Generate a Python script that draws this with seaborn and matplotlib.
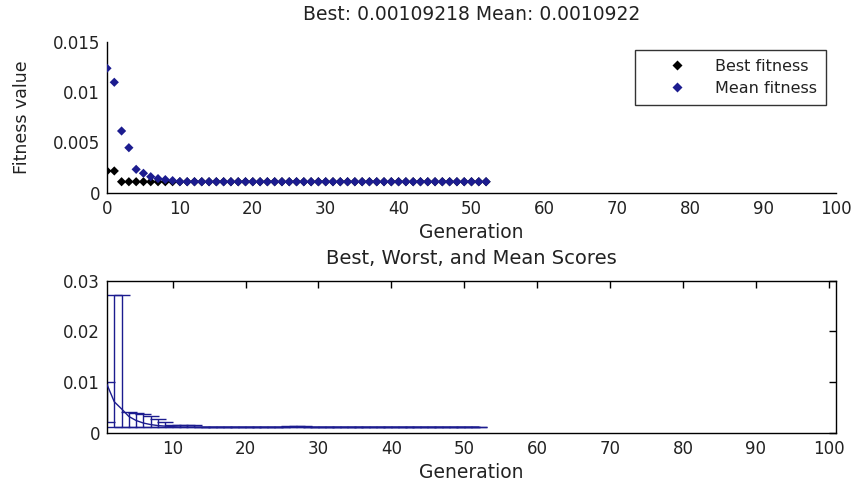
import matplotlib
matplotlib.use("Agg")
import matplotlib.pyplot as plt
import seaborn as sns
import pandas as pd

# ---------------- data ----------------
top_generations = [0, 1, 2, 3, 4, 5, 6, 7, 8, 9, 10, 11, 12, 13, 14, 15, 16, 17, 18, 19,
                   20, 21, 22, 23, 24, 25, 26, 27, 28, 29, 30, 31, 32, 33, 34, 35, 36, 37, 38, 39,
                   40, 41, 42, 43, 44, 45, 46, 47, 48, 49, 50, 51, 52]
best_fitness = [0.00216, 0.00216, 0.00109, 0.00109, 0.00109, 0.00109, 0.00109, 0.00109, 0.00109, 0.00109,
                0.00109, 0.00109, 0.00109, 0.00109, 0.00109, 0.00109, 0.00109, 0.00109, 0.00109, 0.00109,
                0.00109, 0.00109, 0.00109, 0.00109, 0.00109, 0.00109, 0.00109, 0.00109, 0.00109, 0.00109,
                0.00109, 0.00109, 0.00109, 0.00109, 0.00109, 0.00109, 0.00109, 0.00109, 0.00109, 0.00109,
                0.00109, 0.00109, 0.00109, 0.00109, 0.00109, 0.00109, 0.00109, 0.00109, 0.00109, 0.00109,
                0.00109, 0.00109, 0.00109]
mean_fitness = [0.01236, 0.01097, 0.00613, 0.00447, 0.00232, 0.00193, 0.00159, 0.00140, 0.00130, 0.00120,
                0.00110, 0.00109, 0.00109, 0.00109, 0.00109, 0.00109, 0.00109, 0.00109, 0.00109, 0.00109,
                0.00109, 0.00109, 0.00109, 0.00109, 0.00109, 0.00109, 0.00109, 0.00109, 0.00109, 0.00109,
                0.00109, 0.00109, 0.00109, 0.00109, 0.00109, 0.00109, 0.00109, 0.00109, 0.00109, 0.00109,
                0.00109, 0.00109, 0.00109, 0.00109, 0.00109, 0.00109, 0.00109, 0.00109, 0.00109, 0.00109,
                0.00109, 0.00109, 0.00109]

bottom_generations = [1, 2, 3, 4, 5, 6, 7, 8, 9, 10, 11, 12, 13, 14, 15, 16, 17, 18, 19, 20,
                      21, 22, 23, 24, 25, 26, 27, 28, 29, 30, 31, 32, 33, 34, 35, 36, 37, 38, 39, 40,
                      41, 42, 43, 44, 45, 46, 47, 48, 49, 50, 51, 52]
score_mean = [0.0095, 0.0061, 0.0047, 0.0032, 0.0024, 0.0019, 0.0016, 0.0014, 0.0013, 0.0012,
              0.0011, 0.0011, 0.0011, 0.0011, 0.0011, 0.0011, 0.0011, 0.0011, 0.0011, 0.0011,
              0.0011, 0.0011, 0.0011, 0.0011, 0.0011, 0.0011, 0.0011, 0.0011, 0.0011, 0.0011,
              0.0011, 0.0011, 0.0011, 0.0011, 0.0011, 0.0011, 0.0011, 0.0011, 0.0011, 0.0011,
              0.0011, 0.0011, 0.0011, 0.0011, 0.0011, 0.0011, 0.0011, 0.0011, 0.0011, 0.0011,
              0.0011, 0.0011]
score_min = [0.0021, 0.0011, 0.0011, 0.0011, 0.0011, 0.0011, 0.0011, 0.0011, 0.0011, 0.0011,
             0.0011, 0.0011, 0.0011, 0.0011, 0.0011, 0.0011, 0.0011, 0.0011, 0.0011, 0.0011,
             0.0011, 0.0011, 0.0011, 0.0011, 0.0011, 0.0011, 0.0011, 0.0011, 0.0011, 0.0011,
             0.0011, 0.0011, 0.0011, 0.0011, 0.0011, 0.0011, 0.0011, 0.0011, 0.0011, 0.0011,
             0.0011, 0.0011, 0.0011, 0.0011, 0.0011, 0.0011, 0.0011, 0.0011, 0.0011, 0.0011,
             0.0011, 0.0011]
score_max = [0.0101, 0.0272, 0.0272, 0.0041, 0.0038, 0.0036, 0.0033, 0.0027, 0.0022, 0.0015,
             0.0015, 0.0015, 0.0015, 0.0011, 0.0011, 0.0011, 0.0011, 0.0011, 0.0011, 0.0011,
             0.0011, 0.0011, 0.0011, 0.0011, 0.0011, 0.0014, 0.0014, 0.0014, 0.0011, 0.0011,
             0.0011, 0.0011, 0.0011, 0.0011, 0.0011, 0.0011, 0.0011, 0.0011, 0.0011, 0.0011,
             0.0011, 0.0011, 0.0011, 0.0011, 0.0011, 0.0011, 0.0011, 0.0011, 0.0011, 0.0011,
             0.0011, 0.0011]

top_title = "Best: 0.00109218 Mean: 0.0010922"
bottom_title = "Best, Worst, and Mean Scores"
top_xticks = [0, 10, 20, 30, 40, 50, 60, 70, 80, 90, 100]
top_yticks = [0, 0.005, 0.01, 0.015]
top_yticklabels = ["0", "0.005", "0.01", "0.015"]
bottom_xticks = [10, 20, 30, 40, 50, 60, 70, 80, 90, 100]
bottom_yticks = [0, 0.01, 0.02, 0.03]
bottom_yticklabels = ["0", "0.01", "0.02", "0.03"]

# ---------------- style ----------------
sns.set_style("white")
plt.rcParams["font.family"] = ["DejaVu Sans"]
plt.rcParams["axes.linewidth"] = 1.0
TXT = "#222222"
FS = 12
BLUE = "#1c1c8f"

W, H = 855, 484
fig = plt.figure(figsize=(W / 100, H / 100), dpi=100)
ax1 = fig.add_axes([107 / W, 1 - 192.7 / H, 729 / W, 151 / H])
ax2 = fig.add_axes([107 / W, 1 - 432.7 / H, 729 / W, 152 / H])

# ---------------- top panel ----------------
df_top = pd.DataFrame({
    "Generation": top_generations * 2,
    "value": best_fitness + mean_fitness,
    "series": ["Best fitness"] * len(best_fitness) + ["Mean fitness"] * len(mean_fitness),
})
sns.scatterplot(data=df_top, x="Generation", y="value", hue="series",
                palette={"Best fitness": "black", "Mean fitness": BLUE},
                marker="D", s=22, edgecolor="none", ax=ax1, zorder=3)
ax1.set_xlim(0, 100)
ax1.set_ylim(0, 0.015)
ax1.set_xticks(top_xticks)
ax1.set_yticks(top_yticks)
ax1.set_yticklabels(top_yticklabels)
for s in ["top", "right"]:
    ax1.spines[s].set_visible(False)
for s in ["left", "bottom"]:
    ax1.spines[s].set_color("black")
ax1.tick_params(direction="in", length=5, width=1, labelsize=FS, colors="black",
                labelcolor=TXT, pad=5)
ax1.set_xlabel("Generation", fontsize=13.5, color=TXT, va="center")
ax1.xaxis.set_label_coords(0.5, -40.3 / 151)
ax1.set_ylabel("Fitness value", fontsize=12.5, color=TXT, va="center", ha="center")
ax1.yaxis.set_label_coords(-(107 - 22) / 729, 0.5)
ax1.set_title(top_title, fontsize=13.5, color=TXT, pad=0, y=1 + 26.7 / 151, va="center")
leg = ax1.legend(loc="upper right", bbox_to_anchor=(826 / W, 1 - 50 / H),
                 bbox_transform=fig.transFigure, frameon=True, fancybox=False,
                 fontsize=11.5, handlelength=4.2, handletextpad=0.3, borderpad=0.55,
                 labelspacing=0.45, borderaxespad=0)
leg.get_frame().set_edgecolor("black")
leg.get_frame().set_linewidth(1.0)
for t in leg.get_texts():
    t.set_color(TXT)

# ---------------- bottom panel ----------------
df_bot = pd.DataFrame({"Generation": bottom_generations, "mean": score_mean,
                       "min": score_min, "max": score_max})
lower = df_bot["mean"] - df_bot["min"]
upper = df_bot["max"] - df_bot["mean"]
ax2.errorbar(df_bot["Generation"], df_bot["mean"], yerr=[lower, upper], fmt="none",
             ecolor=BLUE, elinewidth=1.0, capsize=5.5, capthick=1.0, zorder=2)
sns.lineplot(data=df_bot, x="Generation", y="mean", color=BLUE, linewidth=1.0,
             ax=ax2, zorder=3)
ax2.set_xlim(1, 101)
ax2.set_ylim(0, 0.03)
ax2.set_xticks(bottom_xticks)
ax2.set_yticks(bottom_yticks)
ax2.set_yticklabels(bottom_yticklabels)
for s in ax2.spines.values():
    s.set_visible(True)
    s.set_color("black")
ax2.tick_params(direction="in", length=5, width=1, labelsize=FS, colors="black",
                labelcolor=TXT, top=True, right=True, pad=5)
ax2.set_xlabel("Generation", fontsize=13.5, color=TXT, va="center")
ax2.xaxis.set_label_coords(0.5, -39.3 / 152)
ax2.set_ylabel("")
ax2.set_title(bottom_title, fontsize=14, color=TXT, pad=0, y=1 + 21.7 / 152, va="center")

fig.savefig("out.png", dpi=100)
